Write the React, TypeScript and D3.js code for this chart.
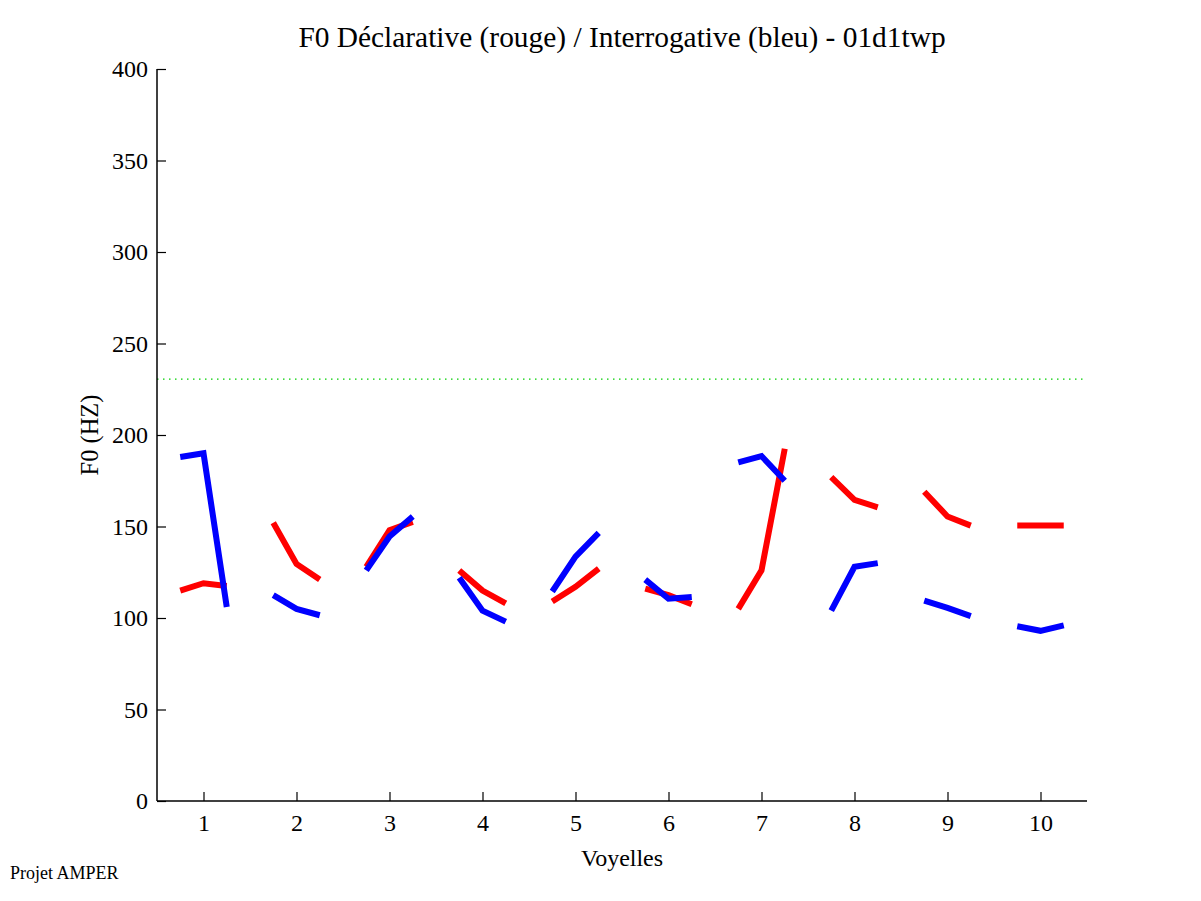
import React, { useEffect, useRef } from 'react';
import * as d3 from 'd3';

// F0 values (Hz), 3 points per vowel: start / middle / end
const vowels = [1, 2, 3, 4, 5, 6, 7, 8, 9, 10];
const declarative = [
  [115, 119, 117.5],
  [152, 129.5, 121],
  [128, 148, 152.5],
  [126, 115, 108],
  [109, 117, 127],
  [116, 112.5, 107.5],
  [105, 126, 192.5],
  [177, 164.5, 160.5],
  [169, 155.5, 150.5],
  [150.5, 150.5, 150.5],
];
const interrogative = [
  [188, 190, 106],
  [112.5, 105, 101.5],
  [126, 144.5, 155.5],
  [122, 104, 98],
  [114.5, 133.5, 146.5],
  [121, 110.5, 111.5],
  [185, 188.5, 175],
  [104, 128, 130],
  [109.5, 105.5, 101],
  [95.5, 93, 96],
];
const offsets = [-0.25, 0, 0.25];
const yTicks = [0, 50, 100, 150, 200, 250, 300, 350, 400];
const refLevel = 230.5;

export default function App() {
  const svgRef = useRef<SVGSVGElement>(null);

  useEffect(() => {
    if (!svgRef.current) return;
    const svg = d3.select(svgRef.current);
    svg.selectAll('*').remove();

    const W = 1201;
    const H = 901;
    const margin = { top: 69, right: 114, bottom: 100, left: 157 };
    const width = W - margin.left - margin.right;
    const height = H - margin.top - margin.bottom;
    const font = '"Liberation Serif", "Times New Roman", serif';

    const x = d3.scaleLinear().domain([0.5, 10.5]).range([0, width]);
    const y = d3.scaleLinear().domain([0, 400]).range([height, 0]);

    const g = svg.append('g').attr('transform', `translate(${margin.left},${margin.top})`);

    // reference line
    g.append('line')
      .attr('x1', 0)
      .attr('x2', width)
      .attr('y1', y(refLevel))
      .attr('y2', y(refLevel))
      .attr('stroke', '#00d000')
      .attr('stroke-width', 1.3)
      .attr('stroke-dasharray', '1.5,4.5');

    const line = d3
      .line<[number, number]>()
      .x(d => x(d[0]))
      .y(d => y(d[1]));

    const drawSeries = (vals: number[][], color: string) => {
      vals.forEach((v, i) => {
        const pts: [number, number][] = v.map((f, k) => [vowels[i] + offsets[k], f]);
        g.append('path')
          .attr('d', line(pts)!)
          .attr('fill', 'none')
          .attr('stroke', color)
          .attr('stroke-width', 6)
          .attr('stroke-linejoin', 'miter')
          .attr('stroke-linecap', 'butt');
      });
    };
    drawSeries(declarative, '#ff0000');
    drawSeries(interrogative, '#0000ff');

    // axes (ticks inward, no box)
    const xAxis = g.append('g')
      .attr('transform', `translate(0,${height})`)
      .call(d3.axisBottom(x).tickValues(vowels).tickSize(-9).tickPadding(13).tickFormat(d3.format('d')));
    const yAxis = g.append('g')
      .call(d3.axisLeft(y).tickValues(yTicks).tickSize(-9).tickPadding(9).tickFormat(d3.format('d')));

    [xAxis, yAxis].forEach(ax => {
      ax.select('.domain').attr('stroke', '#000').attr('stroke-width', 1.5);
      ax.selectAll('.tick line').attr('stroke', '#000').attr('stroke-width', 1.2);
      ax.selectAll('.tick text')
        .attr('fill', '#000')
        .style('font-family', font)
        .style('font-size', '24px');
    });
    xAxis.select('.domain').attr('d', `M0,0H${width}`);
    yAxis.select('.domain').attr('d', `M0,${height}V0`);

    // title & labels
    svg.append('text')
      .attr('x', margin.left + width / 2)
      .attr('y', 47)
      .attr('text-anchor', 'middle')
      .style('font-family', font)
      .style('font-size', '29.4px')
      .text('F0 Déclarative (rouge) / Interrogative (bleu) - 01d1twp');

    svg.append('text')
      .attr('x', margin.left + width / 2)
      .attr('y', 866)
      .attr('text-anchor', 'middle')
      .style('font-family', font)
      .style('font-size', '24px')
      .text('Voyelles');

    svg.append('text')
      .attr('transform', `translate(98,${margin.top + height / 2}) rotate(-90)`)
      .attr('text-anchor', 'middle')
      .style('font-family', font)
      .style('font-size', '24.5px')
      .text('F0 (HZ)');

    svg.append('text')
      .attr('x', 10)
      .attr('y', 879)
      .style('font-family', font)
      .style('font-size', '18px')
      .text('Projet AMPER');
  }, []);

  return (
    <svg
      ref={svgRef}
      width={1201}
      height={901}
      style={{ position: 'absolute', left: 0, top: 0, background: '#fff' }}
    />
  );
}
